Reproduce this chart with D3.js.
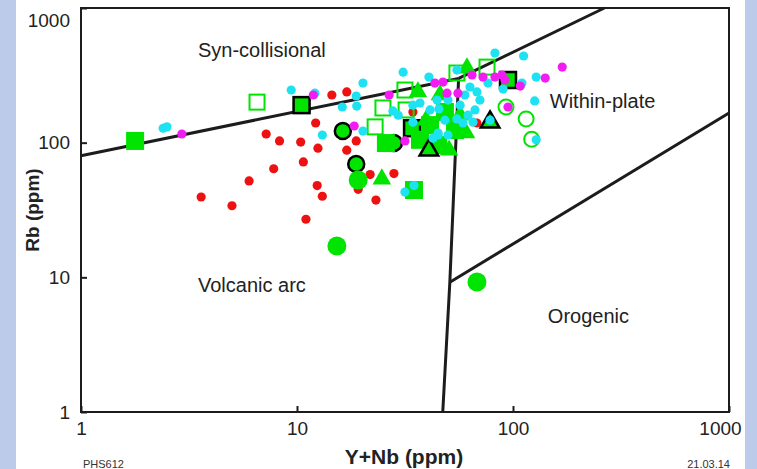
<!DOCTYPE html>
<html>
<head>
<meta charset="utf-8">
<script src="https://cdn.jsdelivr.net/npm/d3@7.9.0/dist/d3.min.js"></script>
<style>
  html, body { margin: 0; padding: 0; background: #fff; }
  svg { display: block; font-family: "Liberation Sans", Arial, Helvetica, sans-serif; }
</style>
</head>
<body>
<svg id="chart" width="757" height="469"></svg>
<script>
// Rb vs Y+Nb discrimination diagram (values in ppm)
const xTicks = [1, 10, 100, 1000];
const yTicks = [1, 10, 100, 1000];

const redDots = [
  [3.6, 39.5], [5.0, 34], [6.0, 52], [7.2, 116], [8.3, 103], [10.4, 101], [10.7, 72],
  [7.8, 64], [12.4, 48], [13.1, 40], [11.0, 27], [12.2, 140], [12.5, 91], [14.5, 226],
  [17.0, 238], [17.0, 88], [18.8, 103], [21.8, 58], [28.1, 59], [23.2, 37.5], [19.2, 45],
  [34.4, 169], [68, 140]
];

const cyanDots = [
  [2.4, 128], [2.5, 131], [9.4, 246], [12.1, 233], [20.2, 277], [18.8, 222], [16.2, 184],
  [18.9, 187], [13.1, 114], [20.2, 122], [29.4, 160], [31.6, 43], [34.8, 48], [45, 114],
  [31, 334], [82.5, 463], [112, 440], [128, 307], [126, 204], [110, 277], [90, 250],
  [128, 105], [40.8, 307], [55, 346], [76.6, 277], [37.1, 197], [41.3, 175], [44.5, 207],
  [50, 207], [56.9, 190], [59.9, 226], [63.2, 259], [68.1, 238], [70.3, 207], [66.7, 175],
  [61.9, 160], [55, 150], [58.7, 140], [48.4, 147], [45, 118], [50, 114], [42.6, 108],
  [34.4, 142], [27.8, 172], [34.4, 190], [78.3, 147], [65.3, 142], [45.4, 178]
];

const magentaDots = [
  [2.93, 116], [11.9, 226], [18.4, 133], [26.7, 226], [47.4, 282], [64.6, 318], [72.6, 307],
  [82.5, 307], [88.9, 318], [91.8, 292], [49.5, 233], [55.6, 233], [43.5, 277], [94.8, 184],
  [108, 263], [141, 302], [169, 364], [31.6, 103]
];

const filledSquares = [
  [1.78, 103], [25.8, 99.3], [34.8, 44.5], [41.3, 135], [48.4, 169], [37.1, 105],
  [53.9, 124], [45, 96]
];
const outlinedSquares = [[10.5, 190], [94.8, 292], [34.1, 128]];
const openSquares = [
  [6.53, 200], [23.0, 131], [25.0, 181], [32.0, 175], [31.6, 246], [55.0, 329], [75.8, 364]
];

const filledTriangles = [
  [24.7, 53.7], [61.2, 358], [60.6, 118], [50.6, 88], [36.3, 238], [45.9, 226],
  [39.6, 147], [56.9, 160]
];
const outlinedTriangles = [[40.8, 88], [78.3, 142]];

const filledCircles = [[15.3, 17.1], [19.2, 52.8], [68.1, 9.23]];
const outlinedCircles = [[16.3, 122], [18.8, 69.4], [28.1, 99.3]];
const openCircles = [[92.8, 184], [115, 150], [122, 106]];

// field boundaries
const boundaryLines = [
  [[1, 80], [56, 300]],
  [[56, 300], [265, 1000]],
  [[56, 300], [51, 9.2], [47.3, 1]],
  [[51, 9.2], [1000, 166]]
];

const fieldNames = ["Syn-collisional", "Within-plate", "Volcanic arc", "Orogenic"];
const fieldAnchors = [[3.48, 432], [148, 181], [3.48, 7.78], [145, 4.58]];

const width = 757, height = 469;
const svg = d3.select('#chart');

const x = d3.scaleLog().domain([1, 1000]).range([81, 729]);
const y = d3.scaleLog().domain([1, 1000]).range([412, 8]);

const green = '#00e400';
const ink = '#1c1c1c';

// slide background
svg.append('rect').attr('width', width).attr('height', height).attr('fill', '#fff');
svg.append('rect').attr('x', 0).attr('width', 16).attr('height', height).attr('fill', '#bdcbea');
svg.append('rect').attr('x', 745).attr('width', 12).attr('height', height).attr('fill', '#bdcbea');

// boundary lines
const line = d3.line().x(d => x(d[0])).y(d => y(d[1]));
svg.append('g')
  .selectAll('path')
  .data(boundaryLines)
  .enter()
  .append('path')
    .attr('d', line)
    .attr('fill', 'none')
    .attr('stroke', ink)
    .attr('stroke-width', 3);

const plot = svg.append('g');

function dots(data, color) {
  plot.append('g').selectAll('circle')
    .data(data).enter()
    .append('circle')
      .attr('cx', d => x(d[0]))
      .attr('cy', d => y(d[1]))
      .attr('r', 4.6)
      .attr('fill', color);
}

function squares(data, size, fill, stroke, sw) {
  plot.append('g').selectAll('rect')
    .data(data).enter()
    .append('rect')
      .attr('x', d => x(d[0]) - size / 2)
      .attr('y', d => y(d[1]) - size / 2)
      .attr('width', size)
      .attr('height', size)
      .attr('fill', fill)
      .attr('stroke', stroke)
      .attr('stroke-width', sw);
}

function circles(data, r, fill, stroke, sw) {
  plot.append('g').selectAll('circle')
    .data(data).enter()
    .append('circle')
      .attr('cx', d => x(d[0]))
      .attr('cy', d => y(d[1]))
      .attr('r', r)
      .attr('fill', fill)
      .attr('stroke', stroke)
      .attr('stroke-width', sw);
}

function triangles(data, fill, stroke, sw) {
  const tri = d3.symbol().type(d3.symbolTriangle).size(150);
  plot.append('g').selectAll('path')
    .data(data).enter()
    .append('path')
      .attr('d', tri)
      .attr('transform', d => `translate(${x(d[0])},${y(d[1])})`)
      .attr('fill', fill)
      .attr('stroke', stroke)
      .attr('stroke-width', sw);
}

dots(redDots, '#ee1111');
circles(outlinedCircles, 8, green, '#000', 2.5);
squares(outlinedSquares, 16, green, '#000', 2.5);
squares(filledSquares, 18, green, 'none', 0);
squares(openSquares, 15, 'none', green, 2);
triangles(filledTriangles, green, 'none', 0);
triangles(outlinedTriangles, green, '#000', 2.5);
circles(filledCircles, 9.5, green, 'none', 0);
circles(openCircles, 7.5, 'none', green, 2);
dots(cyanDots, '#1de2f2');
dots(magentaDots, '#f21cf2');

// frame
svg.append('rect')
  .attr('x', 81).attr('y', 8)
  .attr('width', 648).attr('height', 404)
  .attr('fill', 'none')
  .attr('stroke', ink)
  .attr('stroke-width', 2);

// axes with inward ticks
const xAxis = d3.axisBottom(x).tickValues(xTicks).tickFormat(d3.format('d'))
  .tickSizeInner(-6).tickSizeOuter(0).tickPadding(10);
const yAxis = d3.axisLeft(y).tickValues(yTicks).tickFormat(d3.format('d'))
  .tickSizeInner(-6).tickSizeOuter(0).tickPadding(11);

const gx = svg.append('g').attr('transform', 'translate(0,412)').call(xAxis);
const gy = svg.append('g').attr('transform', 'translate(81,0)').call(yAxis);

[gx, gy].forEach(g => {
  g.select('.domain').remove();
  g.attr('font-family', null).attr('font-size', null);
  g.selectAll('line').attr('stroke', ink).attr('stroke-width', 2);
  g.selectAll('text').attr('fill', '#222').style('font-size', '19px');
});
gx.selectAll('.tick text').filter(d => d === 1000).attr('dx', -9);
gy.selectAll('.tick text').filter(d => d === 1000).attr('y', 12);

// field names
svg.append('g')
  .selectAll('text')
  .data(fieldNames)
  .enter()
  .append('text')
    .attr('x', (d, i) => x(fieldAnchors[i][0]))
    .attr('y', (d, i) => y(fieldAnchors[i][1]))
    .attr('fill', '#222')
    .style('font-size', '20px')
    .text(d => d);

// axis titles
svg.append('text')
  .attr('x', 404).attr('y', 464)
  .attr('text-anchor', 'middle')
  .attr('fill', '#222')
  .style('font-size', '21px').style('font-weight', 'bold')
  .text('Y+Nb (ppm)');

svg.append('text')
  .attr('transform', 'translate(39,210) rotate(-90)')
  .attr('text-anchor', 'middle')
  .attr('fill', '#222')
  .style('font-size', '19px').style('font-weight', 'bold')
  .text('Rb (ppm)');

// slide footer along the bottom edge
svg.append('text').attr('x', 83).attr('y', 468).attr('fill', '#333')
  .style('font-size', '11px').text('PHS612');
svg.append('text').attr('x', 730).attr('y', 468).attr('fill', '#333')
  .attr('text-anchor', 'end').style('font-size', '11px').text('21.03.14');
</script>
</body>
</html>
